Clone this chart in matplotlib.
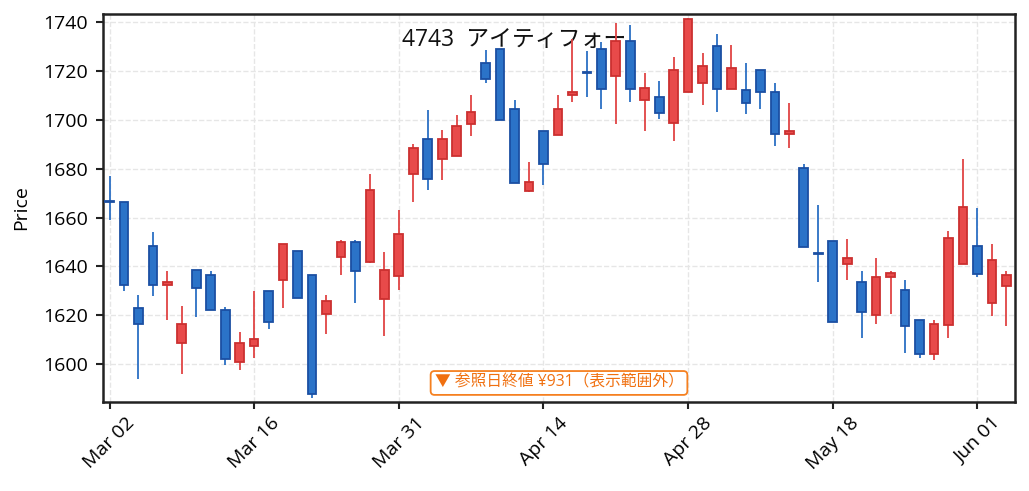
import matplotlib
matplotlib.use("Agg")
import matplotlib.pyplot as plt
import numpy as np
import pandas as pd

plt.rcParams['font.family'] = ['Open Sans', 'Noto Sans CJK JP', 'DejaVu Sans']

holidays = ['2026-03-20', '2026-04-29', '2026-05-04', '2026-05-05', '2026-05-06']
dates = pd.bdate_range('2026-03-02', '2026-06-03', freq='C', holidays=holidays)

opens = [1666.2, 1666.2, 1622.8, 1648.2, 1632.3, 1608.4, 1638.4, 1636.3, 1622.0, 1600.7,
         1607.2, 1629.8, 1634.3, 1646.1, 1636.3, 1620.6, 1644.0, 1649.8, 1641.8, 1626.5,
         1636.2, 1678.0, 1692.2, 1684.1, 1685.1, 1698.1, 1723.3, 1729.1, 1704.5, 1670.9,
         1695.3, 1693.8, 1710.0, 1719.2, 1729.1, 1718.1, 1732.2, 1708.0, 1709.3, 1698.7,
         1711.3, 1714.9, 1730.2, 1712.8, 1712.1, 1720.3, 1711.3, 1694.0, 1680.2, 1644.9,
         1650.2, 1641.1, 1633.4, 1620.2, 1635.5, 1630.2, 1618.1, 1604.2, 1616.1, 1641.1,
         1648.2, 1625.0, 1632.1]
closes = [1666.2, 1632.5, 1616.2, 1632.5, 1633.4, 1616.4, 1631.3, 1622.0, 1602.2, 1608.6,
          1610.2, 1617.0, 1649.0, 1626.9, 1587.8, 1625.7, 1649.8, 1638.2, 1671.1, 1638.4,
          1653.1, 1688.4, 1675.8, 1692.0, 1697.4, 1703.1, 1716.9, 1700.1, 1674.3, 1674.4,
          1682.1, 1704.5, 1711.4, 1719.2, 1712.8, 1732.2, 1712.8, 1713.0, 1703.0, 1720.3,
          1741.4, 1722.0, 1712.8, 1721.1, 1707.1, 1711.3, 1694.0, 1695.3, 1648.1, 1644.9,
          1617.3, 1643.3, 1621.4, 1635.5, 1637.1, 1615.4, 1604.2, 1616.2, 1651.5, 1664.2,
          1637.0, 1642.6, 1636.3]
highs = [1676.9, 1666.2, 1628.4, 1653.9, 1638.2, 1623.6, 1638.4, 1638.2, 1623.5, 1613.0,
         1629.8, 1629.8, 1649.0, 1646.1, 1636.3, 1628.4, 1650.9, 1650.9, 1678.0, 1645.9,
         1663.2, 1690.1, 1704.2, 1696.0, 1702.0, 1710.0, 1728.8, 1729.1, 1708.0, 1682.9,
         1695.3, 1710.0, 1733.2, 1728.1, 1731.9, 1739.7, 1739.0, 1719.0, 1716.1, 1725.8,
         1741.8, 1727.2, 1735.0, 1730.8, 1723.1, 1720.3, 1714.9, 1707.1, 1682.1, 1665.3,
         1650.2, 1651.3, 1638.2, 1643.3, 1638.2, 1634.3, 1618.1, 1618.1, 1654.3, 1684.1,
         1664.0, 1649.3, 1638.1]
lows = [1658.9, 1629.8, 1593.8, 1627.7, 1617.9, 1595.7, 1619.2, 1622.0, 1599.4, 1597.7,
        1602.3, 1614.3, 1622.8, 1626.9, 1586.0, 1612.1, 1636.3, 1624.8, 1641.4, 1611.3,
        1630.2, 1666.2, 1671.1, 1675.2, 1685.1, 1693.3, 1715.1, 1700.1, 1674.3, 1670.3,
        1673.2, 1693.8, 1707.2, 1709.4, 1704.5, 1698.3, 1707.2, 1695.3, 1700.4, 1691.2,
        1711.3, 1706.0, 1703.1, 1712.8, 1702.4, 1704.5, 1689.2, 1688.4, 1648.1, 1633.4,
        1617.3, 1634.3, 1610.5, 1616.2, 1620.4, 1604.5, 1602.4, 1601.5, 1610.5, 1641.1,
        1635.5, 1619.5, 1615.4]

title_text = "4743  アイティフォー"
note_text = "▼ 参照日終値 ¥931（表示範囲外）"

o = np.array(opens); c = np.array(closes); h = np.array(highs); l = np.array(lows)
x = np.arange(len(o))
up = c > o

red_fill, red_edge, red_wick = '#e84a4a', '#cc3030', '#e04444'
blue_fill, blue_edge, blue_wick = '#2b73c8', '#1b4fa3', '#2b6fc4'

fig = plt.figure(figsize=(10.29, 4.91), dpi=100)
ax = fig.add_axes([0.1001, 0.1813, 0.8863, 0.7902])

wick_colors = np.where(up, red_wick, blue_wick)
ax.vlines(x, l, h, colors=wick_colors, linewidth=1.3, zorder=3)
body_bottom = np.minimum(o, c)
body_height = np.maximum(np.abs(c - o), 0.5)
ax.bar(x, body_height, bottom=body_bottom, width=0.6,
       color=np.where(up, red_fill, blue_fill),
       edgecolor=np.where(up, red_edge, blue_edge), linewidth=1.3, zorder=4)

lo, hi = l.min(), h.max()
pad = (hi - lo) * 0.01
ax.set_ylim(lo - pad, hi + pad)
ax.set_xlim(-0.45, len(x) - 0.4)

tick_pos = np.arange(0, len(x), 10)
ax.set_xticks(tick_pos)
ax.set_xticklabels([dates[i].strftime('%b %d') for i in tick_pos], rotation=45, fontsize=14)
ax.set_yticks(np.arange(1600, 1741, 20))
ax.tick_params(axis='y', labelsize=14, pad=6)
ax.tick_params(axis='both', direction='out', length=5, width=1.5, color='#222222')
for s in ax.spines.values():
    s.set_linewidth(1.8)
    s.set_color('#222222')
ax.grid(True, linestyle='--', color='#e6e6e6', linewidth=1.0, zorder=0)
ax.set_axisbelow(True)
ax.set_ylabel('Price', fontsize=14, labelpad=9)

ax.text(0.328, 0.914, title_text, transform=ax.transAxes, ha='left', va='baseline',
        fontsize=16.5, color='#111111', zorder=2)
ax.text(0.5, 0.049, note_text, transform=ax.transAxes, ha='center', va='center',
        fontsize=11.3, color='#f07010', zorder=6,
        bbox=dict(boxstyle='round,pad=0.25', facecolor='white', edgecolor='#f58020', linewidth=1.3))

fig.savefig('out.png', dpi=100)
